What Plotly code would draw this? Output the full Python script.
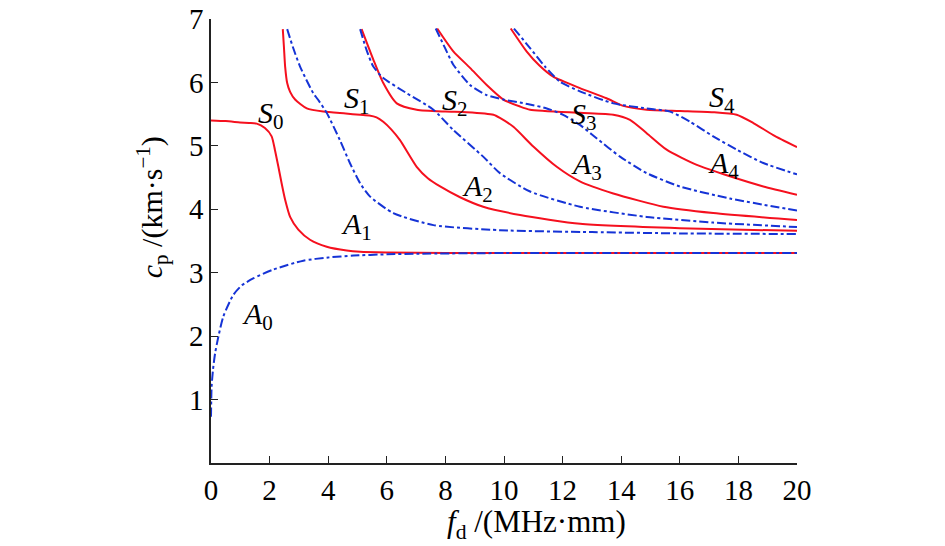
import plotly.graph_objects as go

# dispersion curves: fd (MHz*mm) vs cp (km/s)
s0_x = [0, 0.5, 0.99, 1.3, 1.56, 1.84, 2.07, 2.18, 2.3, 2.41, 2.53, 2.7, 2.98, 3.38, 3.95, 4.63, 5.09, 6.0, 8.0, 12.0, 20.0]
s0_y = [5.40, 5.39, 5.37, 5.36, 5.35, 5.28, 5.15, 4.94, 4.67, 4.41, 4.15, 3.88, 3.68, 3.52, 3.41, 3.35, 3.33, 3.32, 3.31, 3.31, 3.31]

a0_x = [0, 0.02, 0.07, 0.14, 0.25, 0.42, 0.76, 1.05, 1.44, 2.13, 3.15, 4.0, 4.86, 6.0, 7.1, 10.0, 20.0]
a0_y = [0.73, 1.20, 1.48, 1.73, 1.99, 2.31, 2.65, 2.80, 2.91, 3.05, 3.19, 3.24, 3.27, 3.29, 3.30, 3.31, 3.31]

s1_x = [2.45, 2.49, 2.53, 2.6, 2.7, 2.87, 3.27, 3.83, 4.6, 5.09, 5.4, 5.65, 5.88, 6.15, 6.45, 7.02, 7.4, 7.82, 8.5, 9.29, 10.55, 12.6, 16.0, 20.0]
s1_y = [6.84, 6.55, 6.25, 5.99, 5.85, 5.73, 5.59, 5.54, 5.51, 5.49, 5.48, 5.45, 5.38, 5.26, 5.09, 4.67, 4.49, 4.36, 4.19, 4.04, 3.91, 3.77, 3.70, 3.66]

a1_x = [2.6, 2.8, 3.04, 3.49, 3.65, 3.95, 4.4, 4.74, 5.09, 5.43, 6.22, 7.59, 9.86, 13.0, 16.0, 20.0]
a1_y = [6.84, 6.55, 6.25, 5.83, 5.73, 5.52, 5.09, 4.73, 4.41, 4.20, 3.94, 3.75, 3.67, 3.64, 3.62, 3.61]

s2_x = [5.14, 5.54, 5.88, 6.34, 7.02, 8.0, 8.73, 9.64, 9.86, 10.32, 11.0, 11.8, 12.59, 13.73, 15.44, 17.14, 20.0]
s2_y = [6.84, 6.36, 5.99, 5.67, 5.57, 5.54, 5.53, 5.49, 5.44, 5.30, 4.99, 4.67, 4.44, 4.25, 4.04, 3.94, 3.83]

a2_x = [5.09, 5.31, 5.54, 5.88, 6.68, 7.59, 8.27, 9.29, 9.86, 10.89, 12.59, 14.87, 17.14, 20.0]
a2_y = [6.84, 6.51, 6.25, 6.07, 5.83, 5.57, 5.25, 4.83, 4.57, 4.28, 4.04, 3.88, 3.79, 3.72]

s3_x = [7.72, 8.27, 8.84, 9.41, 9.98, 10.55, 10.89, 12.59, 13.73, 14.3, 14.87, 15.55, 16.58, 17.71, 18.85, 20.0]
s3_y = [6.85, 6.49, 6.23, 5.96, 5.73, 5.62, 5.57, 5.52, 5.49, 5.41, 5.20, 4.94, 4.70, 4.52, 4.36, 4.23]

a3_x = [7.67, 7.99, 8.27, 8.84, 9.41, 9.98, 10.8, 11.46, 12.02, 12.59, 13.16, 13.96, 14.87, 16.0, 17.71, 20.0]
a3_y = [6.85, 6.54, 6.28, 5.96, 5.80, 5.73, 5.66, 5.59, 5.49, 5.33, 5.12, 4.83, 4.57, 4.36, 4.17, 3.98]

s4_x = [10.23, 10.77, 11.2, 11.68, 12.59, 13.5, 14.07, 14.87, 16.0, 17.14, 17.94, 18.51, 19.19, 20.0]
s4_y = [6.85, 6.49, 6.27, 6.09, 5.91, 5.75, 5.63, 5.57, 5.55, 5.53, 5.49, 5.36, 5.17, 4.98]

a4_x = [10.34, 10.89, 11.4, 11.91, 12.59, 13.73, 14.87, 15.67, 16.35, 17.14, 17.94, 18.85, 20.0]
a4_y = [6.85, 6.54, 6.25, 6.01, 5.86, 5.67, 5.59, 5.54, 5.38, 5.15, 4.94, 4.73, 4.55]

# mode labels
lab_text = ['S', 'S', 'S', 'S', 'S', 'A', 'A', 'A', 'A', 'A']
lab_sub = ['0', '1', '2', '3', '4', '0', '1', '2', '3', '4']
lab_x = [2.05, 4.98, 8.33, 12.73, 17.44, 1.6, 4.95, 9.11, 12.83, 17.5]
lab_y = [5.49, 5.72, 5.69, 5.47, 5.74, 2.32, 3.74, 4.34, 4.68, 4.70]

red = '#f5101e'
blue = '#1533d6'
font = 'Liberation Serif, Times New Roman, serif'

fig = go.Figure()
sym = [(s0_x, s0_y), (s1_x, s1_y), (s2_x, s2_y), (s3_x, s3_y), (s4_x, s4_y)]
anti = [(a0_x, a0_y), (a1_x, a1_y), (a2_x, a2_y), (a3_x, a3_y), (a4_x, a4_y)]
for xs, ys in sym:
    fig.add_trace(go.Scatter(x=xs, y=ys, mode='lines',
                             line=dict(color=red, width=2, shape='spline', smoothing=0.6)))
for xs, ys in anti:
    fig.add_trace(go.Scatter(x=xs, y=ys, mode='lines',
                             line=dict(color=blue, width=2, dash='dashdot', shape='spline', smoothing=0.6)))

for t, s, x, y in zip(lab_text, lab_sub, lab_x, lab_y):
    fig.add_annotation(x=x, y=y, text='<i>' + t + '</i><sub>' + s + '</sub>',
                       showarrow=False, font=dict(family=font, size=30, color='black'))

# axis titles as annotations so they sit where the original has them
fig.add_annotation(xref='paper', yref='paper', x=0.555, y=-0.138,
                   xanchor='center', yanchor='middle',
                   text='<i>f</i><sub>d</sub> /(MHz·mm)', showarrow=False,
                   font=dict(family=font, size=31, color='black'))
fig.add_annotation(xref='paper', yref='paper', x=-0.1, y=0.577, textangle=-90,
                   xanchor='center', yanchor='middle',
                   text='<i>c</i><sub>p</sub> /(km·s<sup>−1</sup>)', showarrow=False,
                   font=dict(family=font, size=30, color='black'))

# page body has an 8px margin, so the figure is offset by 8px in the window
fig.update_layout(
    width=929, height=538,
    margin=dict(l=203, r=140, t=11, b=83, autoexpand=False),
    plot_bgcolor='white', paper_bgcolor='white',
    showlegend=False,
    font=dict(family=font, size=29, color='black'),
)
fig.update_xaxes(range=[0, 20], tickvals=list(range(0, 21, 2)), ticks='inside', ticklen=7,
                 tickcolor='#222', showline=True, linecolor='#222', linewidth=1.5,
                 showgrid=False, zeroline=False, ticklabelstandoff=0, automargin=False,
                 ticklabeloverflow='allow')
fig.update_yaxes(range=[0, 7], tickvals=[1, 2, 3, 4, 5, 6, 7], ticks='inside', ticklen=7,
                 tickcolor='#222', showline=True, linecolor='#222', linewidth=1.5,
                 showgrid=False, zeroline=False, ticklabelstandoff=0, automargin=False,
                 ticklabeloverflow='allow')

fig.write_html('out.html')
